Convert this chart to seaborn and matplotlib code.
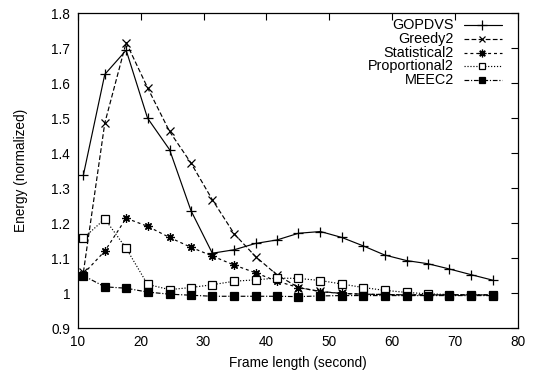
import pandas as pd
import matplotlib
matplotlib.use("Agg")
import matplotlib.pyplot as plt
from matplotlib.lines import Line2D
import seaborn as sns

frame_len = [10.9, 14.3, 17.7, 21.1, 24.6, 28.0, 31.4, 34.9, 38.3, 41.7,
             45.1, 48.6, 52.0, 55.4, 58.8, 62.3, 65.7, 69.1, 72.5, 76.0]

gopdvs = [1.338, 1.625, 1.694, 1.500, 1.410, 1.236, 1.114, 1.124, 1.142, 1.152,
          1.171, 1.176, 1.159, 1.135, 1.109, 1.093, 1.084, 1.069, 1.053, 1.037]
greedy2 = [1.060, 1.486, 1.716, 1.587, 1.462, 1.372, 1.267, 1.169, 1.104, 1.052,
           1.016, 1.005, 0.999, 0.997, 0.996, 0.995, 0.995, 0.995, 0.995, 0.995]
statistical2 = [1.055, 1.120, 1.214, 1.191, 1.159, 1.131, 1.106, 1.080, 1.058, 1.034,
                1.016, 1.004, 0.999, 0.997, 0.996, 0.995, 0.995, 0.995, 0.995, 0.995]
proportional2 = [1.157, 1.212, 1.128, 1.025, 1.010, 1.016, 1.024, 1.034, 1.038, 1.043,
                 1.042, 1.036, 1.026, 1.016, 1.008, 1.002, 0.998, 0.996, 0.995, 0.995]
meec2 = [1.050, 1.018, 1.014, 1.003, 0.997, 0.994, 0.991, 0.991, 0.991, 0.991,
         0.990, 0.992, 0.993, 0.993, 0.993, 0.993, 0.993, 0.993, 0.993, 0.993]

series_names = ["GOPDVS", "Greedy2", "Statistical2", "Proportional2", "MEEC2"]
series_values = [gopdvs, greedy2, statistical2, proportional2, meec2]

x_ticks = [10, 20, 30, 40, 50, 60, 70, 80]
y_ticks = [0.9, 1.0, 1.1, 1.2, 1.3, 1.4, 1.5, 1.6, 1.7, 1.8]
y_tick_labels = ["0.9", "1", "1.1", "1.2", "1.3", "1.4", "1.5", "1.6", "1.7", "1.8"]

styles = {
    "GOPDVS": dict(marker="+", linestyle="-", markersize=7),
    "Greedy2": dict(marker="x", linestyle=(0, (4, 2)), markersize=5.5),
    "Statistical2": dict(marker=(8, 2, 0), linestyle=(0, (2.5, 2.5)), markersize=6),
    "Proportional2": dict(marker="s", linestyle=(0, (1, 1.5)), markersize=5.5,
                          markerfacecolor="white"),
    "MEEC2": dict(marker="s", linestyle=(0, (4, 1.5, 1, 1.5)), markersize=5.5,
                  markerfacecolor="black"),
}

FS = 9.8
KEY_FS = 10.4

sns.set_theme(style="white")
plt.rcParams["font.family"] = ["Liberation Sans", "DejaVu Sans"]
plt.rcParams["font.size"] = FS

fig = plt.figure(figsize=(5.4, 3.75), dpi=100)
ax = fig.add_axes([0.144, 0.125, 0.815, 0.84])

for name, vals in zip(series_names, series_values):
    df = pd.DataFrame({"x": frame_len, "y": vals})
    sns.lineplot(data=df, x="x", y="y", ax=ax, color="black", lw=0.85,
                 sort=False, errorbar=None, markeredgecolor="black",
                 markeredgewidth=0.9, **styles[name])

ax.set_xlim(10, 80)
ax.set_ylim(0.9, 1.8)
ax.set_xticks(x_ticks)
ax.set_yticks(y_ticks)
ax.set_yticklabels(y_tick_labels)
ax.tick_params(direction="in", length=5, width=0.8, top=True, right=True,
               labelsize=FS, colors="black")
ax.tick_params(axis="y", pad=5.5)
ax.tick_params(axis="x", pad=5)
for s in ax.spines.values():
    s.set_color("black")
    s.set_linewidth(0.9)
ax.set_xlabel("Frame length (second)", fontsize=FS, color="black")
ax.set_ylabel("Energy (normalized)", fontsize=FS, color="black")
ax.xaxis.set_label_coords(0.5, -0.088)
ax.yaxis.set_label_coords(-0.113, 0.5)

# gnuplot-style key: label right aligned, sample to its right
key_top = 0.962
key_step = 0.0438
for i, name in enumerate(series_names):
    yk = key_top - i * key_step
    ax.text(0.855, yk, name, transform=ax.transAxes, ha="right", va="center",
            fontsize=KEY_FS, color="black")
    st = styles[name]
    ax.add_line(Line2D([0.877, 0.918, 0.964], [yk, yk, yk], transform=ax.transAxes,
                       color="black", lw=0.85, linestyle=st["linestyle"],
                       marker=st["marker"], markevery=[1],
                       markersize=st["markersize"] - 0.5,
                       markerfacecolor=st.get("markerfacecolor", "black"),
                       markeredgecolor="black", markeredgewidth=0.9,
                       clip_on=False))

fig.savefig("out.png", dpi=100)
